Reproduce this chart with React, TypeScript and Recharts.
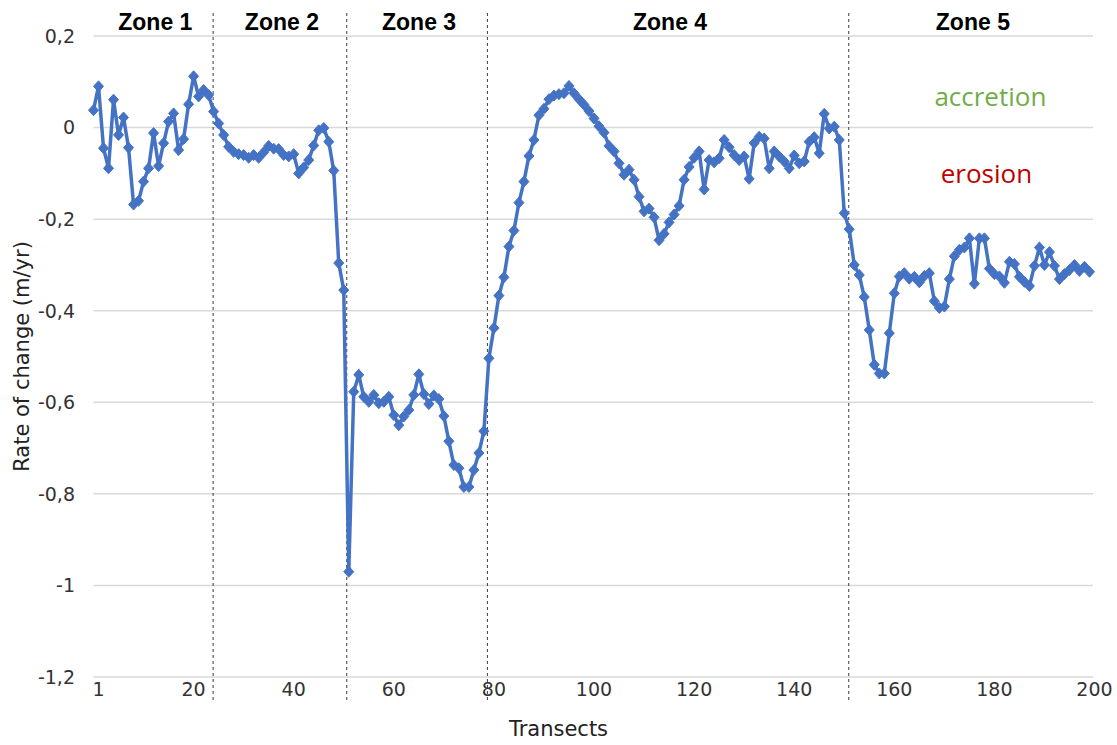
import React from 'react';
import {
  LineChart,
  Line,
  XAxis,
  YAxis,
  CartesianGrid,
  ReferenceLine,
  ReferenceArea,
  ReferenceDot,
} from 'recharts';

// Rate of shoreline change (m/yr) per transect, in blocks of 25 transects
const ratesT001to025 = [
  0.038, 0.09, -0.045, -0.089, 0.061, -0.016, 0.022, -0.044, -0.168, -0.16,
  -0.118, -0.089, -0.012, -0.084, -0.034, 0.013, 0.031, -0.049, -0.025, 0.051,
  0.112, 0.068, 0.082, 0.071, 0.035,
];
const ratesT026to050 = [
  0.009, -0.016, -0.042, -0.053, -0.058, -0.06, -0.066, -0.06, -0.066, -0.054,
  -0.04, -0.046, -0.047, -0.06, -0.063, -0.058, -0.1, -0.087, -0.071, -0.039,
  -0.006, -0.001, -0.031, -0.094, -0.296,
];
const ratesT051to075 = [
  -0.355, -0.97, -0.577, -0.54, -0.588, -0.599, -0.584, -0.602, -0.599, -0.588,
  -0.628, -0.65, -0.631, -0.617, -0.584, -0.539, -0.582, -0.604, -0.585, -0.593,
  -0.63, -0.685, -0.737, -0.744, -0.785,
];
const ratesT076to100 = [
  -0.785, -0.748, -0.711, -0.663, -0.504, -0.438, -0.367, -0.327, -0.26, -0.225,
  -0.164, -0.118, -0.062, -0.027, 0.027, 0.041, 0.062, 0.07, 0.073, 0.075,
  0.091, 0.075, 0.062, 0.05, 0.036,
];
const ratesT101to125 = [
  0.02, 0.003, -0.011, -0.04, -0.052, -0.078, -0.103, -0.092, -0.114, -0.151,
  -0.183, -0.177, -0.196, -0.246, -0.232, -0.207, -0.19, -0.171, -0.114, -0.086,
  -0.066, -0.052, -0.135, -0.071, -0.076,
];
const ratesT126to150 = [
  -0.067, -0.027, -0.043, -0.06, -0.071, -0.063, -0.112, -0.034, -0.02, -0.024,
  -0.089, -0.052, -0.063, -0.074, -0.089, -0.061, -0.078, -0.074, -0.031, -0.021,
  -0.056, 0.03, -0.002, 0.002, -0.027,
];
const ratesT151to175 = [
  -0.187, -0.222, -0.3, -0.322, -0.37, -0.442, -0.518, -0.537, -0.537, -0.449,
  -0.362, -0.325, -0.318, -0.33, -0.326, -0.338, -0.324, -0.318, -0.379, -0.394,
  -0.391, -0.331, -0.281, -0.267, -0.262,
];
const ratesT176to200 = [
  -0.242, -0.341, -0.242, -0.242, -0.308, -0.32, -0.325, -0.339, -0.293, -0.298,
  -0.326, -0.337, -0.346, -0.302, -0.262, -0.3, -0.272, -0.302, -0.331, -0.32,
  -0.311, -0.3, -0.313, -0.304, -0.315,
];

const transectTicks = [1, 20, 40, 60, 80, 100, 120, 140, 160, 180, 200];
const rateTicks = [-1.2, -1, -0.8, -0.6, -0.4, -0.2, 0, 0.2];

const zoneNames = ['Zone 1', 'Zone 2', 'Zone 3', 'Zone 4', 'Zone 5'];
const zoneBreaks = [24.9, 51.6, 79.7, 151.9];

const X_MIN = 1;
const X_MAX = 200.7;
const CHART_W = 1117;
const CHART_H = 745;
const BLUE = '#4472C4';
const TICK_FONT = '"DejaVu Sans", "Liberation Sans", Arial, sans-serif';
const TITLE_FONT = '"Liberation Sans", Arial, sans-serif';

const rates = [
  ...ratesT001to025,
  ...ratesT026to050,
  ...ratesT051to075,
  ...ratesT076to100,
  ...ratesT101to125,
  ...ratesT126to150,
  ...ratesT151to175,
  ...ratesT176to200,
];
const data = rates.map((rate, i) => ({ transect: i + 1, rate }));

const zones = zoneNames.map((name, i) => ({
  name,
  start: i === 0 ? X_MIN : zoneBreaks[i - 1],
  end: i === zoneNames.length - 1 ? X_MAX : zoneBreaks[i],
}));

const formatRate = (v: number) => String(Math.round(v * 10) / 10).replace('.', ',');

const Diamond = (props: any) => {
  const { cx, cy, index } = props;
  if (cx == null || cy == null) return <g key={`d${index}`} />;
  return (
    <path
      key={`d${index}`}
      d={`M${cx},${cy - 5.5}L${cx + 5},${cy}L${cx},${cy + 5.5}L${cx - 5},${cy}Z`}
      fill={BLUE}
      stroke={BLUE}
      strokeWidth={1}
    />
  );
};

// Zone divider that runs a little above and below the plot area
const ZoneDivider = (props: any) => {
  const { x1, y1, x2, y2 } = props;
  return (
    <line
      x1={x1}
      x2={x2}
      y1={Math.min(y1, y2) - 23}
      y2={Math.max(y1, y2) + 23}
      stroke="#3a3a3a"
      strokeWidth={1}
      strokeDasharray="3 3"
    />
  );
};

const XTick = (props: any) => {
  const { x, y, payload } = props;
  return (
    <text x={x + 5} y={y + 19} textAnchor="middle" fontFamily={TICK_FONT} fontSize={19} fill="#333">
      {payload.value}
    </text>
  );
};

const YTick = (props: any) => {
  const { x, y, payload } = props;
  return (
    <text x={x - 18.5} y={y} dy="0.36em" textAnchor="end" fontFamily={TICK_FONT} fontSize={19} fill="#333">
      {formatRate(payload.value)}
    </text>
  );
};

const zoneTitle = (name: string) => (p: any) => {
  const vb = p.viewBox;
  return (
    <text
      x={vb.x + vb.width / 2 + 2}
      y={vb.y - 6}
      textAnchor="middle"
      fontFamily={TITLE_FONT}
      fontWeight="bold"
      fontSize={23}
      fill="#000"
    >
      {name}
    </text>
  );
};

const noteLabel = (text: string, color: string) => (p: any) => {
  const vb = p.viewBox;
  return (
    <text
      x={vb.x + vb.width / 2}
      y={vb.y + vb.height / 2}
      dy="0.35em"
      textAnchor="middle"
      fontFamily='"Open Sans", "Liberation Sans", sans-serif'
      fontSize={26}
      fill={color}
    >
      {text}
    </text>
  );
};

const yTitle = (p: any) => {
  const vb = p.viewBox;
  const cx = vb.x + 22;
  const cy = vb.y + vb.height / 2;
  return (
    <text
      x={cx}
      y={cy}
      dy="0.35em"
      textAnchor="middle"
      transform={`rotate(-90, ${cx}, ${cy})`}
      fontFamily={TICK_FONT}
      fontSize={21}
      fill="#222"
    >
      Rate of change (m/yr)
    </text>
  );
};

const xTitle = (p: any) => {
  const vb = p.viewBox;
  return (
    <text
      x={CHART_W / 2}
      y={vb.y + 52}
      dy="0.35em"
      textAnchor="middle"
      fontFamily={TICK_FONT}
      fontSize={21}
      fill="#222"
    >
      Transects
    </text>
  );
};

export default function App() {
  return (
    <div style={{ position: 'absolute', left: 0, top: 0, width: CHART_W, height: CHART_H, background: '#fff' }}>
      <LineChart
        width={CHART_W}
        height={CHART_H}
        data={data}
        margin={{ top: 36, right: 24, bottom: 0, left: 0 }}
      >
        <CartesianGrid vertical={false} stroke="#d9d9d9" strokeWidth={1.5} />
        <XAxis
          dataKey="transect"
          type="number"
          domain={[X_MIN, X_MAX]}
          ticks={transectTicks}
          interval={0}
          axisLine={false}
          tickLine={false}
          tickSize={0}
          tickMargin={0}
          height={68}
          tick={XTick}
          label={xTitle}
        />
        <YAxis
          type="number"
          domain={[-1.2, 0.2]}
          ticks={rateTicks}
          interval={0}
          axisLine={false}
          tickLine={false}
          tickSize={0}
          tickMargin={0}
          width={93.5}
          tick={YTick}
          label={yTitle}
        />
        {zones.map((z) => (
          <ReferenceArea
            key={z.name}
            x1={z.start}
            x2={z.end}
            fillOpacity={0}
            strokeOpacity={0}
            label={zoneTitle(z.name)}
          />
        ))}
        {zoneBreaks.map((b) => (
          <ReferenceLine key={`zb${b}`} x={b} stroke="#3a3a3a" shape={ZoneDivider} />
        ))}
        <ReferenceDot x={180.2} y={0.067} r={1} fillOpacity={0} strokeOpacity={0} label={noteLabel('accretion', '#70AD47')} />
        <ReferenceDot x={179.4} y={-0.1015} r={1} fillOpacity={0} strokeOpacity={0} label={noteLabel('erosion', '#C00000')} />
        <Line
          type="linear"
          dataKey="rate"
          stroke={BLUE}
          strokeWidth={3.5}
          dot={Diamond}
          activeDot={false}
          isAnimationActive={false}
        />
      </LineChart>
    </div>
  );
}
